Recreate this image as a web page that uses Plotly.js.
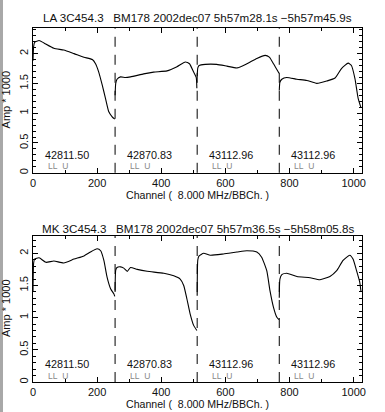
<!DOCTYPE html>
<html><head><meta charset="utf-8">
<script src="https://cdn.plot.ly/plotly-3.0.1.min.js"></script>
<style>html,body{margin:0;padding:0;background:#fff;}#c{width:385px;height:412px;}</style>
</head><body><div id="c"></div>
<script>
// ---- data ----
const titleTop = "LA 3C454.3\u00a0\u00a0\u00a0BM178 2002dec07 5h57m28.1s \u22125h57m45.9s";
const titleBot = "MK 3C454.3\u00a0\u00a0\u00a0BM178 2002dec07 5h57m36.5s \u22125h58m05.8s";
const xTitle = "Channel (\u00a0\u00a08.000 MHz/BBCh. )";
const yTitle = "Amp * 1000";
const freqLabels = ["42811.50", "42870.83", "43112.96", "43112.96"];
const polLabel = "LL\u00a0\u00a0U";
const segStarts = [0, 256, 512, 768];
const boundaries = [256, 512, 768];

// LA panel
const la_ch1 = [0, 2, 5, 19, 34, 65, 96, 128, 159, 185, 195, 205, 216, 226, 236, 247, 255];
const la_v1  = [1.88, 2.12, 2.19, 2.22, 2.18, 2.09, 2.06, 2.00, 1.94, 1.90, 1.83, 1.69, 1.47, 1.25, 1.03, 0.94, 0.90];
const la_ch2 = [256, 258, 262, 273, 288, 304, 345, 376, 418, 449, 475, 488, 501, 509, 511];
const la_v2  = [1.30, 1.50, 1.57, 1.61, 1.60, 1.61, 1.66, 1.69, 1.71, 1.78, 1.86, 1.83, 1.69, 1.60, 1.42];
const la_ch3 = [512, 514, 518, 537, 573, 605, 636, 667, 698, 724, 737, 750, 765, 767];
const la_v3  = [1.62, 1.76, 1.80, 1.82, 1.82, 1.79, 1.76, 1.83, 1.92, 1.97, 1.94, 1.83, 1.69, 1.67];
const la_ch4 = [768, 770, 776, 791, 823, 854, 885, 916, 942, 962, 983, 993, 1004, 1014, 1023];
const la_v4  = [1.38, 1.52, 1.57, 1.60, 1.57, 1.55, 1.50, 1.54, 1.59, 1.75, 1.84, 1.80, 1.58, 1.25, 1.09];

// MK panel
const mk_ch1 = [0, 2, 5, 19, 40, 65, 96, 128, 159, 179, 200, 211, 221, 231, 242, 252, 255];
const mk_v1  = [1.40, 1.85, 1.91, 1.93, 1.86, 1.88, 1.85, 1.91, 1.96, 2.02, 2.07, 2.04, 1.89, 1.63, 1.45, 1.37, 1.33];
const mk_ch2 = [256, 258, 262, 273, 283, 294, 304, 325, 356, 408, 439, 459, 470, 480, 490, 501, 511];
const mk_v2  = [1.42, 1.74, 1.78, 1.79, 1.77, 1.72, 1.78, 1.75, 1.72, 1.69, 1.65, 1.60, 1.50, 1.29, 1.06, 0.88, 0.80];
const mk_ch3 = [512, 514, 518, 532, 553, 594, 636, 667, 698, 713, 729, 739, 750, 760, 767];
const mk_v3  = [1.34, 1.90, 1.96, 2.00, 1.97, 1.99, 2.02, 2.04, 2.02, 1.94, 1.73, 1.42, 1.16, 1.01, 0.97];
const mk_ch4 = [768, 770, 776, 791, 823, 864, 895, 926, 947, 967, 988, 998, 1009, 1019, 1023];
const mk_v4  = [1.31, 1.60, 1.67, 1.69, 1.64, 1.62, 1.59, 1.64, 1.73, 1.89, 1.97, 1.91, 1.73, 1.55, 1.40];

// ---- build ----
function join(chs, vs) {
  const x = [], y = [];
  chs.forEach((c, i) => { if (i) { x.push(null); y.push(null); } x.push(...c); y.push(...vs[i]); });
  return {x, y};
}
const la = join([la_ch1, la_ch2, la_ch3, la_ch4], [la_v1, la_v2, la_v3, la_v4]);
const mk = join([mk_ch1, mk_ch2, mk_ch3, mk_ch4], [mk_v1, mk_v2, mk_v3, mk_v4]);

const lineStyle = {color: '#000', width: 1.1, shape: 'spline', smoothing: 0.5};
const traces = [
  {x: la.x, y: la.y, xaxis: 'x', yaxis: 'y', mode: 'lines', line: lineStyle, connectgaps: false, hoverinfo: 'skip'},
  {x: mk.x, y: mk.y, xaxis: 'x2', yaxis: 'y2', mode: 'lines', line: lineStyle, connectgaps: false, hoverinfo: 'skip'}
];

const F = 'Liberation Sans, Arial, sans-serif';
const txt = '#111';
function xax(anchor) {
  return {
    domain: [0, 1], anchor: anchor, range: [0, 1026], showgrid: false, zeroline: false,
    showline: true, linecolor: '#000', linewidth: 1, mirror: 'ticks',
    ticks: 'inside', ticklen: 5, tickwidth: 1, tickcolor: '#000', dtick: 200, tick0: 0,
    minor: {ticks: 'inside', ticklen: 3, dtick: 100, tickcolor: '#000', showgrid: false},
    tickfont: {family: F, size: 11, color: txt}, fixedrange: true
  };
}
function yax(anchor, domain, top) {
  return {
    domain: domain, anchor: anchor, range: [0, top], showgrid: false, zeroline: false,
    showline: true, linecolor: '#000', linewidth: 1, mirror: 'ticks',
    ticks: 'inside', ticklen: 5, tickwidth: 1, tickcolor: '#000', dtick: 0.5, tick0: 0,
    minor: {ticks: 'inside', ticklen: 3, dtick: 0.1, tickcolor: '#000', showgrid: false},
    tickangle: -90, tickfont: {family: F, size: 11, color: txt}, fixedrange: true
  };
}

const shapes = [
  {type: 'rect', xref: 'paper', yref: 'paper', x0: -33/329, x1: -30/329, y0: -0.2, y1: 1.2,
   fillcolor: '#a8a8a8', line: {width: 0}, layer: 'below'}
];
[['x', 'y'], ['x2', 'y2']].forEach(([xr, yr]) => {
  boundaries.forEach(b => shapes.push({type: 'line', xref: xr, yref: yr + ' domain', x0: b, x1: b, y0: 0, y1: 1,
    line: {color: '#000', width: 1, dash: '10px,8px'}}));
});

const annotations = [];
function panelText(xr, yr, title, fy, py, titleY, xtY, ytX) {
  annotations.push({text: title, xref: 'paper', yref: yr + ' domain', x: 0.5, y: titleY, showarrow: false,
    xanchor: 'center', yanchor: 'middle', font: {family: F, size: 11.6, color: txt}});
  annotations.push({text: xTitle, xref: 'paper', yref: yr + ' domain', x: 0.5, y: xtY, showarrow: false,
    xanchor: 'center', yanchor: 'middle', font: {family: F, size: 10.6, color: txt}});
  annotations.push({text: yTitle, xref: 'paper', yref: yr + ' domain', x: ytX, y: 0.5, showarrow: false,
    xanchor: 'center', yanchor: 'middle', textangle: -90, font: {family: F, size: 11, color: txt}});
  segStarts.forEach((s, i) => {
    annotations.push({text: freqLabels[i], xref: xr, yref: yr + ' domain', x: s + 31, y: fy, showarrow: false,
      xanchor: 'left', yanchor: 'middle', font: {family: F, size: 10.8, color: txt}});
    annotations.push({text: polLabel, xref: xr, yref: yr + ' domain', x: s + 41, y: py, showarrow: false,
      xanchor: 'left', yanchor: 'middle', font: {family: F, size: 8.5, color: '#888'}});
  });
}
panelText('x', 'y', titleTop, 18/145, 6.5/145, 1 + 11/145, -22.5/145, -27/329);
panelText('x2', 'y2', titleBot, 18/146.3, 6.5/146.3, 1 + 7/146.3, -22.3/146.3, -27/329);

const layout = {
  width: 385, height: 412, paper_bgcolor: '#fff', plot_bgcolor: '#fff', showlegend: false,
  margin: {l: 33, r: 23, t: 27.7, b: 29.7, pad: 0},
  xaxis: xax('y'), yaxis: yax('x', [0.591, 1], 2.43),
  xaxis2: xax('y2'), yaxis2: yax('x2', [0, 0.4126], 2.27),
  shapes: shapes, annotations: annotations
};
Plotly.newPlot('c', traces, layout, {staticPlot: true, displayModeBar: false});
</script></body></html>
